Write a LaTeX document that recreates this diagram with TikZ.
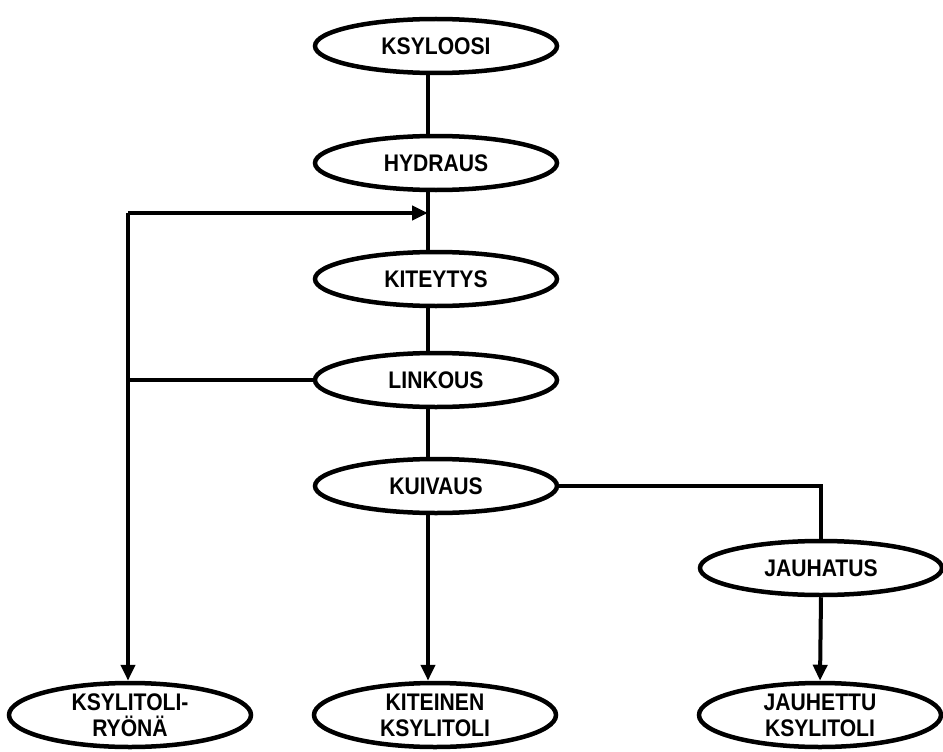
\documentclass[tikz,border=0pt]{standalone}
\usepackage{fontspec}
\setmainfont{Liberation Sans}[FakeStretch=0.88]
\usetikzlibrary{shapes.geometric,arrows.meta}

\begin{document}
\begin{tikzpicture}[x=1pt, y=-1pt]
    \tikzstyle{proc_node} = [shape = ellipse, draw = black, line width=4.5pt, minimum width=242pt, minimum height=54pt, inner sep=0pt, font=\fontsize{24}{26}\selectfont\bfseries]
    \tikzstyle{proc_end}  = [proc_node, minimum height=64pt, align=center]
    \tikzstyle{proc_line} = [draw = black, line width=4pt]
    \tikzstyle{proc_arr}  = [proc_line, -{Triangle[length=16pt, width=14pt]}]

    \useasboundingbox (0,0) rectangle (943,752);

    \node[proc_node] at (436,  46) (n_ksy) {KSYLOOSI};
    \node[proc_node] at (436, 163) (n_hyd) {HYDRAUS};
    \node[proc_node] at (436, 279) (n_kit) {KITEYTYS};
    \node[proc_node] at (436, 380) (n_lin) {LINKOUS};
    \node[proc_node] at (436, 486) (n_kui) {KUIVAUS};
    \node[proc_node] at (821, 568) (n_jau) {JAUHATUS};

    \node[proc_end] at (130, 715) (n_ryo) {KSYLITOLI-\\RYÖNÄ};
    \node[proc_end] at (435, 715) (n_kite) {KITEINEN\\KSYLITOLI};
    \node[proc_end] at (820, 715) (n_jhk) {JAUHETTU\\KSYLITOLI};

    \coordinate (spine) at (428, 0);
    \coordinate (loop) at (128, 213);
    \coordinate (mix) at (428, 213);

    % main line
    \path[proc_line]
      (n_ksy.south -| spine) edge (n_hyd.north -| spine)
      (n_hyd.south -| spine) edge (n_kit.north -| spine)
      (n_kit.south -| spine) edge (n_lin.north -| spine)
      (n_lin.south -| spine) edge (n_kui.north -| spine)
    ;

    % recycle loop
    \draw[proc_line] (n_lin.west) -- (n_lin.west -| loop);
    \draw[proc_arr] (loop) -- (mix);
    \draw[proc_arr] (loop) -- (n_ryo.north -| loop);

    % products
    \draw[proc_arr] (n_kui.south -| spine) -- (n_kite.north -| spine);
    \draw[proc_line] (n_kui.east) -| (n_jau.north);
    \draw[proc_arr] (n_jau.south) -- (n_jhk.north);
  \end{tikzpicture}
\end{document}
